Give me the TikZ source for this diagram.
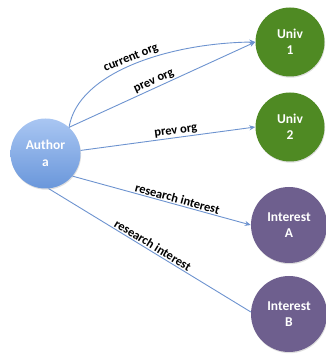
\documentclass[tikz,border=0pt]{standalone}
\usepackage{fontspec}
\setmainfont{Carlito}
\usetikzlibrary{shadows,arrows.meta}
\definecolor{univgreen}{HTML}{4F8A23}
\definecolor{intpurple}{HTML}{6E5F8E}
\definecolor{edgeblue}{HTML}{6D93CF}
\definecolor{authtop}{HTML}{A9C6F2}
\definecolor{authbot}{HTML}{6A97DB}
\tikzset{
  entity/.style={circle, inner sep=0pt, text=white, align=center,
    font=\fontsize{13.5}{16.5}\selectfont\bfseries,
    drop shadow={opacity=0.25, shadow xshift=0.6pt, shadow yshift=-1.2pt}},
  authornode/.style={entity, minimum size=70pt, top color=authtop, bottom color=authbot},
  univnode/.style={entity, minimum size=69pt, fill=univgreen},
  intnode/.style={entity, minimum size=76pt, fill=intpurple},
  edge/.style={draw=edgeblue, line width=0.9pt},
  arr/.style={edge, -{Stealth[length=6pt,width=5pt]}},
  lbl/.style={sloped, above, inner sep=1.2pt, text=black,
    font=\fontsize{12.5}{14}\selectfont\bfseries}
}
\begin{document}
\begin{tikzpicture}[x=1pt,y=1pt]
\useasboundingbox (0,0) rectangle (326,354);
\node[authornode] (author) at (45.5,200.5) {Author\\a};
\node[univnode] (univ1) at (290,312) {Univ\\1};
\node[univnode] (univ2) at (290,227) {Univ\\2};
\node[intnode] (intA) at (289,129) {Interest\\A};
\node[intnode] (intB) at (289,40) {Interest\\B};
\draw[arr] (author.48) .. controls (78,282) and (170,311) .. node[lbl, pos=0.5] {current org} (univ1.180);
\draw[arr] (author.48) -- node[lbl, pos=0.47] {prev org} (univ1.180);
\draw[arr] (author.5) -- node[lbl, pos=0.55] {prev org} (univ2.180);
\draw[arr] (author.-40) -- node[lbl, pos=0.58] {research interest} (intA.180);
\draw[edge] (author.-85) -- node[lbl, pos=0.5] {research interest} (intB.177);
\end{tikzpicture}
\end{document}
